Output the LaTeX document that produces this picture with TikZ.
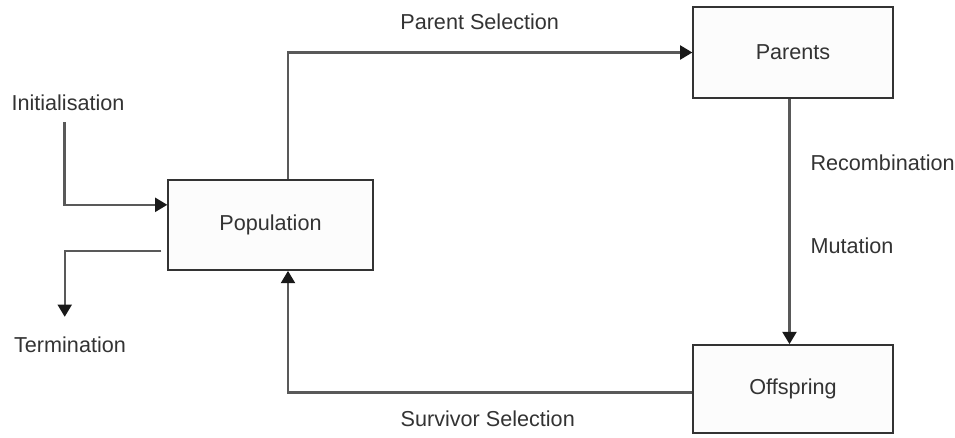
\documentclass[tikz,border=0pt]{standalone}
\usepackage{fontspec}
\setmainfont{Liberation Sans}
\usetikzlibrary{arrows.meta,calc,positioning}

\begin{document}
\begin{tikzpicture}[x=0.02cm, y=-0.02cm, >={Triangle[length=7pt,width=8pt,color=black!90]},
    stagebox/.style={draw=black!80, line width=1.2pt, fill=black!1, inner sep=0pt},
    lbl/.style={text=black!80, font=\fontsize{12.3}{14}\selectfont},
    flow/.style={draw=black!65, line width=1.3pt}]
  \useasboundingbox (0,0) rectangle (955,437);
  \node[stagebox, minimum width=205*0.567pt, minimum height=90*0.567pt, lbl] (pop) at (270.5,225) {Population};
  \node[stagebox, minimum width=200*0.567pt, minimum height=91*0.567pt, lbl] (par) at (793,52.5) {Parents};
  \node[stagebox, minimum width=200*0.567pt, minimum height=88*0.567pt, lbl] (off) at (793,389) {Offspring};
  \node[lbl] (init) at (68,103) {Initialisation};
  \node[lbl] (term) at (70,345) {Termination};
  % connectors
  \coordinate (popin) at ($(pop.north west)!0.28!(pop.south west)$);
  \coordinate (popout) at ($(pop.north west)!0.78!(pop.south west)+(-6,0)$);
  \coordinate (popup) at ($(pop.north)+(17.5,0)$);
  \coordinate (popdown) at ($(pop.south)+(17.5,0)$);
  \draw[flow,->] ([xshift=-2pt,yshift=-3pt]init.south) |- (popin);
  \draw[flow,->,shorten >=8pt] (popout) -| ([xshift=-3pt]term.north);
  \draw[flow,->] (popup) |- (par.west) node[lbl, pos=0.737, above=9pt] {Parent Selection};
  \draw[flow,->] ([xshift=-2pt]par.south) -- ([xshift=-2pt]off.north)
    node[lbl, pos=0.26, right=8pt] {Recombination}
    node[lbl, pos=0.6, right=8pt] {Mutation};
  \draw[flow,->] ([yshift=-2pt]off.west) -| (popdown) node[lbl, pos=0.253, below=6.5pt] {Survivor Selection};
\end{tikzpicture}
\end{document}
